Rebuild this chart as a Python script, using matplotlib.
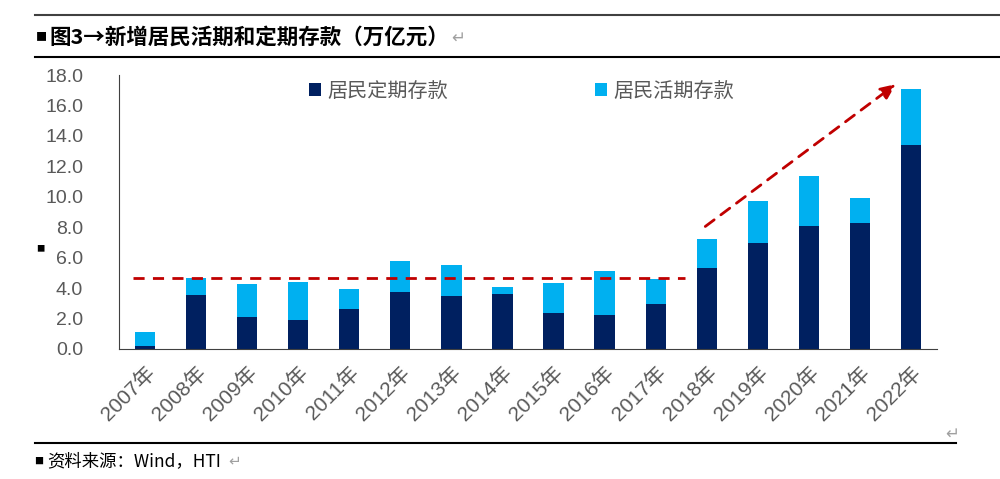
import numpy as np
import matplotlib.pyplot as plt
from matplotlib.lines import Line2D

plt.rcParams['font.family'] = ['Noto Sans CJK SC', 'DejaVu Sans']

# Data (万亿元)
years = [f"{y}年" for y in range(2007, 2023)]
fixed = [0.20, 3.53, 2.09, 1.91, 2.63, 3.77, 3.51, 3.62, 2.35, 2.24, 2.94,
         5.31, 6.95, 8.09, 8.31, 13.42]
demand = [0.94, 1.12, 2.19, 2.48, 1.34, 2.04, 2.02, 0.48, 2.01, 2.91, 1.65,
          1.93, 2.79, 3.25, 1.62, 3.68]

# annotation guides
flat_level = 4.65
flat_span = (-0.23, 10.57)
trend_start = (10.97, 8.05)
trend_end = (14.7, 17.4)

dark = "#002060"
light = "#00B0F0"
red = "#C00000"
gray = "#595959"

fig = plt.figure(figsize=(10, 4.79), dpi=100)
ax = fig.add_axes([0.1193, 0.2714, 0.8174, 0.572])

x = np.arange(len(years))
ax.bar(x, fixed, 0.4, color=dark, label="居民定期存款")
ax.bar(x, demand, 0.4, bottom=fixed, color=light, label="居民活期存款")

ax.plot(flat_span, [flat_level, flat_level], color=red, lw=2, ls=(0, (4, 3)))
ax.annotate("", xy=trend_end, xytext=trend_start,
            arrowprops=dict(arrowstyle="-|>,head_length=0.9,head_width=0.4",
                            color=red, lw=2, ls=(0, (4, 3)),
                            shrinkA=0, shrinkB=0))

ax.set_xlim(-0.5, 15.5)
ax.set_ylim(0, 18)
ax.set_yticks(np.arange(0, 18.1, 2))
ax.set_yticklabels([f"{v:.1f}" for v in np.arange(0, 18.1, 2)],
                   family="Liberation Sans", fontsize=14, color=gray)
ax.set_xticks(x)
ax.set_xticklabels(years, rotation=45, ha="right", va="top",
                   rotation_mode="anchor", fontsize=15, color=gray,
                   family=["Liberation Sans", "Noto Sans CJK SC"])
ax.tick_params(axis="y", length=0, pad=26)
ax.tick_params(axis="x", length=0, pad=10)
for s in ["top", "right"]:
    ax.spines[s].set_visible(False)
ax.spines["left"].set_color("#404040")
ax.spines["bottom"].set_color("#404040")

ax.legend(loc="upper left", bbox_to_anchor=(0.21, 1.045), ncol=2, frameon=False,
          fontsize=14.5, handlelength=0.6, handleheight=0.6, handletextpad=0.3,
          columnspacing=7.3, labelcolor=gray)

# frame lines and texts
fig.add_artist(Line2D([0.035, 1.0], [1 - 15 / 479, 1 - 15 / 479], color="#404040", lw=1.5))
fig.add_artist(Line2D([0.035, 1.0], [1 - 57 / 479, 1 - 57 / 479], color="black", lw=1.5))
fig.add_artist(Line2D([0.035, 0.956], [1 - 443 / 479, 1 - 443 / 479], color="black", lw=1.5))

fig.text(0.041, 1 - 37 / 479, "■", fontsize=8, va="center", ha="center")
fig.text(0.049, 1 - 37 / 479, "图3→新增居民活期和定期存款（万亿元）", fontsize=15.5,
         fontweight="bold", va="center", ha="left")
fig.text(0.451, 1 - 38 / 479, "↵", fontsize=12, color="#a0a0a0", va="center",
         family="DejaVu Sans")
fig.text(0.04, 1 - 249 / 479, "■", fontsize=6, va="center", ha="center")
fig.text(0.945, 1 - 434 / 479, "↵", fontsize=12, color="#a0a0a0", va="center",
         family="DejaVu Sans")
fig.text(0.039, 1 - 461 / 479, "■", fontsize=6.5, va="center", ha="center")
fig.text(0.047, 1 - 461 / 479, "资料来源：Wind，HTI", fontsize=12.5, va="center",
         ha="left", family=["Noto Sans CJK SC", "DejaVu Sans"])
fig.text(0.228, 1 - 461 / 479, "↵", fontsize=11, color="#a0a0a0", va="center",
         family="DejaVu Sans")

fig.savefig("out.png", dpi=100)
